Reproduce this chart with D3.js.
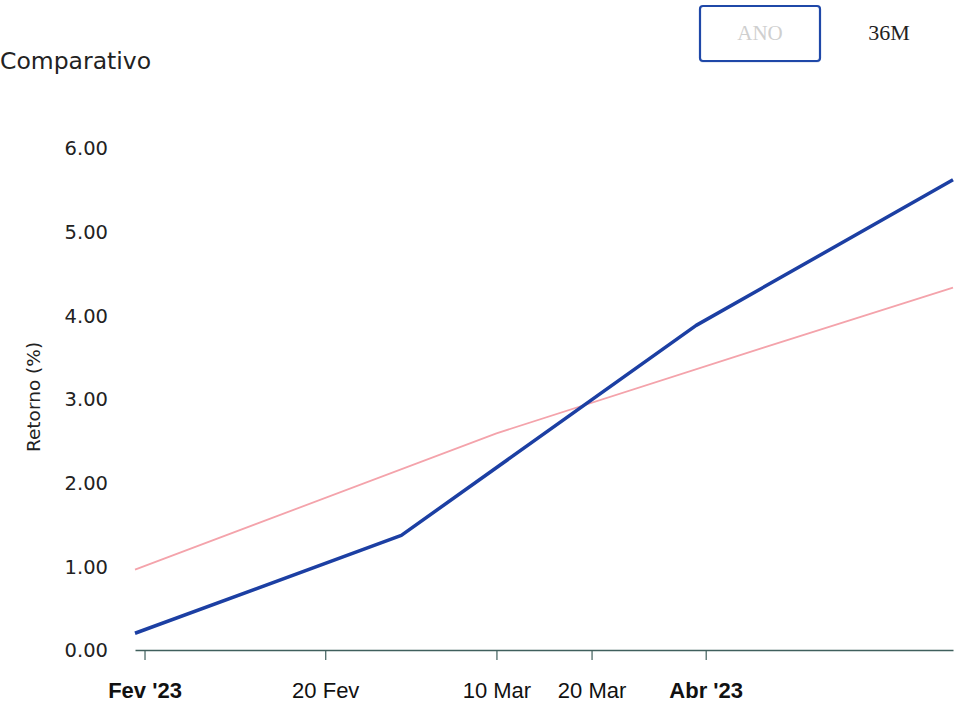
<!DOCTYPE html>
<html>
<head>
<meta charset="utf-8">
<script src="https://cdn.jsdelivr.net/npm/d3@7"></script>
<style>
  html, body { margin: 0; padding: 0; background: #ffffff; }
  svg { display: block; }
</style>
</head>
<body>
<svg id="chart" width="974" height="706"></svg>
<script>
// ---- data ----
const fundDates = ["2023-01-31", "2023-02-28", "2023-03-31", "2023-04-27"];
const fundValues = [0.20, 1.37, 3.88, 5.62];
const benchDates = ["2023-01-31", "2023-03-10", "2023-04-07", "2023-04-27"];
const benchValues = [0.96, 2.59, 3.61, 4.33];
const xTickDates = ["2023-02-01", "2023-02-20", "2023-03-10", "2023-03-20", "2023-04-01"];
const xTickLabels = ["Fev '23", "20 Fev", "10 Mar", "20 Mar", "Abr '23"];
const xTickBold = [true, false, false, false, true];
const yTicks = [0, 1, 2, 3, 4, 5, 6];
const titleText = "Comparativo";
const yAxisTitle = "Retorno (%)";
const buttonLabels = ["ANO", "36M"];

const parse = d3.utcParse("%Y-%m-%d");
const svg = d3.select("#chart");

const x = d3.scaleUtc()
  .domain([parse("2023-01-31"), parse("2023-04-27")])
  .range([135, 953]);
const y = d3.scaleLinear().domain([0, 6]).range([650, 148]);

// title
svg.append("text")
  .attr("x", 0).attr("y", 69)
  .attr("font-family", "DejaVu Sans, Verdana, sans-serif")
  .attr("font-size", 23.5)
  .attr("fill", "#222")
  .text(titleText);

// buttons
const btn = svg.append("g");
btn.append("rect")
  .attr("x", 700).attr("y", 8).attr("width", 120).attr("height", 55)
  .attr("rx", 3)
  .attr("fill", "#e8ebf2");
btn.append("rect")
  .attr("x", 700).attr("y", 6).attr("width", 120).attr("height", 55)
  .attr("rx", 3)
  .attr("fill", "#ffffff")
  .attr("stroke", "#1f48a8").attr("stroke-width", 2.2);
btn.append("text")
  .attr("x", 760).attr("y", 40).attr("text-anchor", "middle")
  .attr("font-family", "Liberation Serif, serif")
  .attr("font-size", 21).attr("fill", "#cfcfcf")
  .text(buttonLabels[0]);
btn.append("text")
  .attr("x", 889).attr("y", 40).attr("text-anchor", "middle")
  .attr("font-family", "Liberation Serif, serif")
  .attr("font-size", 22).attr("fill", "#222")
  .text(buttonLabels[1]);

// y axis labels
const yAxis = d3.axisLeft(y).tickValues(yTicks).tickFormat(d3.format(".2f")).tickSize(0).tickPadding(0);
const gy = svg.append("g").attr("transform", "translate(108,0)").call(yAxis);
gy.select(".domain").remove();
gy.selectAll("text")
  .attr("font-family", "DejaVu Sans, Verdana, sans-serif")
  .attr("font-size", 19.5)
  .attr("fill", "#222")
  .attr("dy", "0.35em");

svg.append("text")
  .attr("transform", "translate(40,397) rotate(-90)")
  .attr("text-anchor", "middle")
  .attr("font-family", "DejaVu Sans, Verdana, sans-serif")
  .attr("font-size", 18.5)
  .attr("fill", "#222")
  .text(yAxisTitle);

// x axis
const xAxis = d3.axisBottom(x)
  .tickValues(xTickDates.map(parse))
  .tickFormat((d, i) => xTickLabels[i])
  .tickSize(10).tickSizeOuter(0).tickPadding(22);
const gx = svg.append("g").attr("transform", "translate(0,650)").call(xAxis);
gx.select(".domain").attr("stroke", "#3f5f5c").attr("stroke-width", 1.4);
gx.selectAll(".tick line").attr("stroke", "#3f5f5c").attr("stroke-width", 1.2);
gx.selectAll(".tick text")
  .attr("font-family", "Liberation Sans, Arial, sans-serif")
  .attr("font-size", 22)
  .attr("fill", "#111")
  .attr("font-weight", (d, i) => xTickBold[i] ? "bold" : "normal");

// lines
const line = d3.line().x(d => x(d[0])).y(d => y(d[1]));
const benchData = benchDates.map((d, i) => [parse(d), benchValues[i]]);
const fundData = fundDates.map((d, i) => [parse(d), fundValues[i]]);

svg.append("path")
  .datum(benchData)
  .attr("d", line)
  .attr("fill", "none")
  .attr("stroke", "#f4a3ab")
  .attr("stroke-width", 1.8);

svg.append("path")
  .datum(fundData)
  .attr("d", line)
  .attr("fill", "none")
  .attr("stroke", "#1c3fa3")
  .attr("stroke-width", 3.5)
  .attr("stroke-linejoin", "round");
</script>
</body>
</html>
